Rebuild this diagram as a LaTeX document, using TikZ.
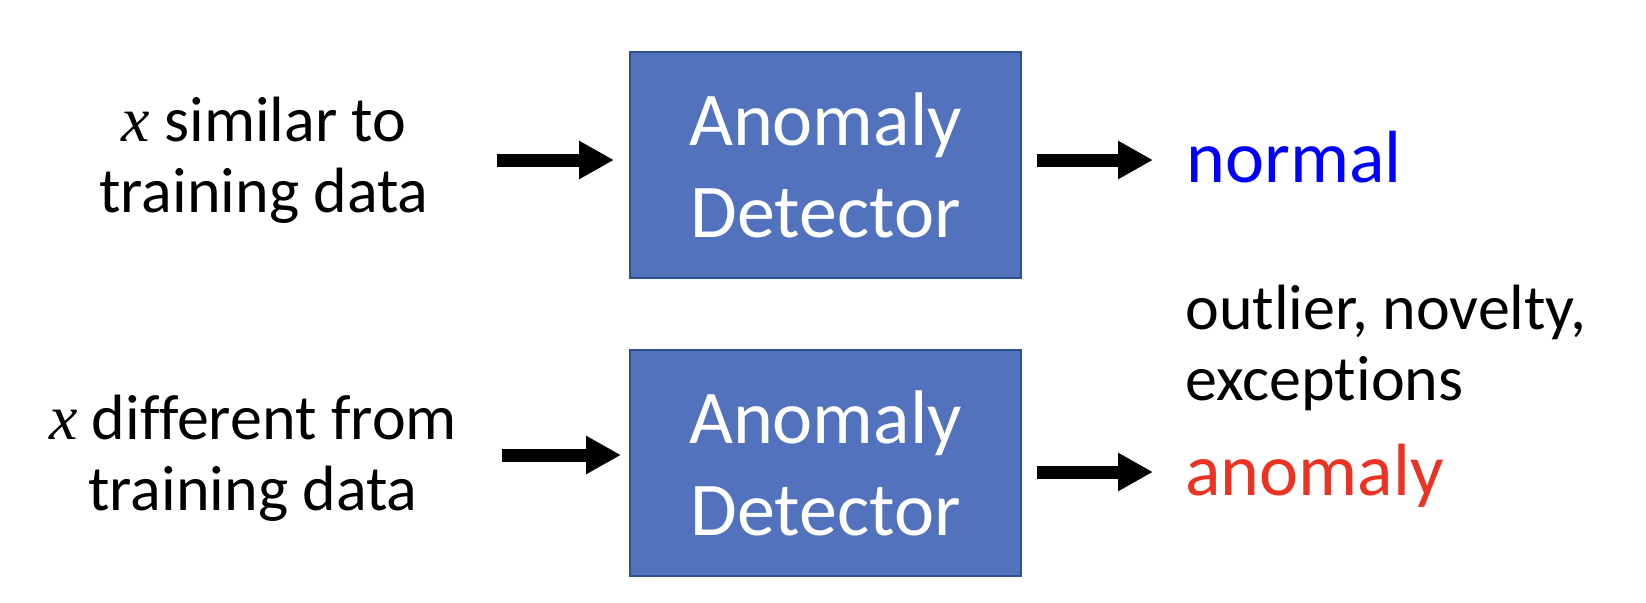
\documentclass[tikz,border=0pt]{standalone}
\usepackage{fontspec}
\setmainfont{Carlito}[Ligatures={NoCommon}]
\newfontfamily\varfont{Liberation Serif}
\usetikzlibrary{arrows.meta}
\definecolor{boxfill}{RGB}{82,114,190}
\definecolor{boxdraw}{RGB}{47,82,143}
\definecolor{anored}{RGB}{234,51,35}
\newcommand{\xvar}{{\varfont\itshape x}}
\begin{document}
\begin{tikzpicture}[x=0.5pt,y=-0.5pt,
  detector/.style={draw=boxdraw, line width=1pt, fill=boxfill, text=white,
    minimum width=195.5pt, minimum height=113pt, inner sep=0pt, align=center,
    font=\fontsize{38}{46}\selectfont},
  sidetext/.style={align=center, inner sep=0pt, font=\fontsize{32}{35.5}\selectfont},
  outtext/.style={anchor=base west, inner sep=0pt, font=\fontsize{37}{44}\selectfont},
  fat/.style={line width=6.5pt, -{Triangle[length=17.5pt,width=18pt]}}
]
\useasboundingbox (0,0) rectangle (1646,602);

\node[detector] (d1) at (825.5,165) {Anomaly\\Detector};
\node[detector] (d2) at (825.5,463) {Anomaly\\Detector};

\node[sidetext] (in1) at (264,160) {\xvar{} similar to\\training data};
\node[sidetext] (in2) at (253,458) {\xvar{} different from\\training data};

\node[outtext, text=blue] (out1) at (1186,182) {normal};
\node[anchor=west, align=left, inner sep=0pt, font=\fontsize{32}{35.5}\selectfont] (note) at (1185,348) {outlier, novelty,\\exceptions};
\node[outtext, text=anored] (out2) at (1185,495) {anomaly};

\coordinate (s1) at (497,160);
\coordinate (s2) at (502,455);
\coordinate (e1) at (1153,160);
\coordinate (e2) at (1153,472);

\draw[fat, shorten >=7.5pt] (s1) -- (d1.west |- s1);
\draw[fat, shorten >=4pt] (s2) -- (d2.west |- s2);
\draw[fat, shorten <=7.5pt] (d1.east |- e1) -- (e1);
\draw[fat, shorten <=7.5pt] (d2.east |- e2) -- (e2);
\end{tikzpicture}
\end{document}
